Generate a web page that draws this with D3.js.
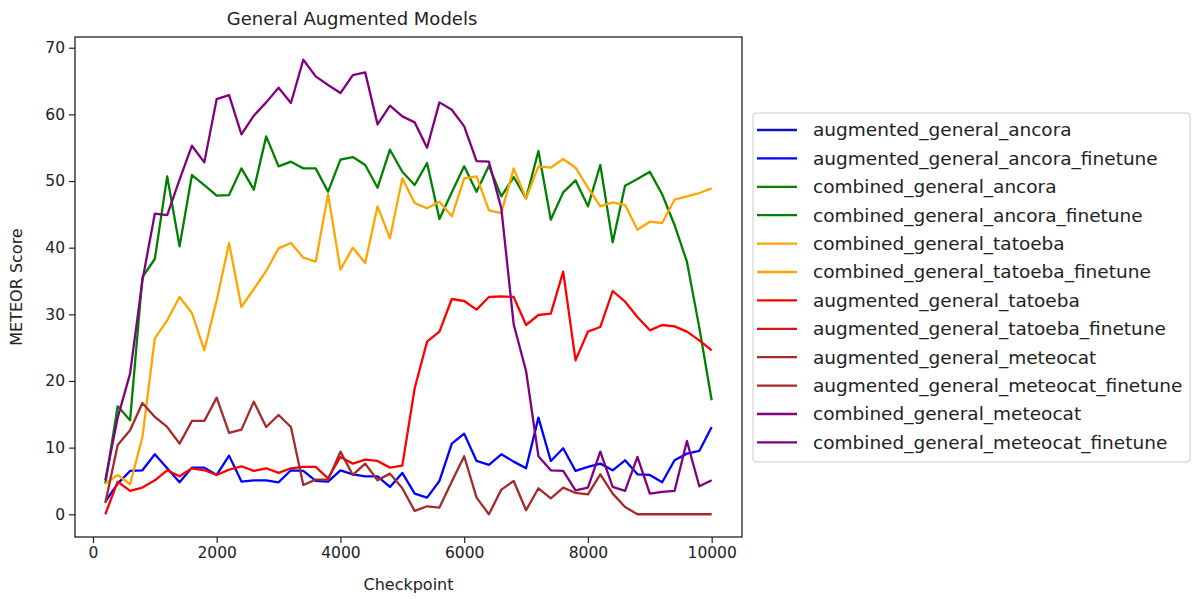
<!DOCTYPE html>
<html>
<head>
<meta charset="utf-8">
<script src="https://cdn.jsdelivr.net/npm/d3@7"></script>
<style>
  body { margin: 0; background: #fff; }
  text { font-family: "DejaVu Sans", sans-serif; fill: #222; }
</style>
</head>
<body>
<svg id="chart" width="1193" height="599"></svg>
<script>
// checkpoints 200..10000
const checkpoints = d3.range(1, 51).map(i => i * 200);

const augmentedAncora = [1.9, 4.6, 6.5, 6.6, 9.0, 6.9, 4.8, 7.0, 7.0, 5.9,
  8.8, 4.9, 5.1, 5.1, 4.8, 6.6, 6.5, 5.0, 4.9, 6.6,
  6.0, 5.7, 5.7, 4.1, 6.2, 3.1, 2.5, 5.0, 10.6, 12.1,
  8.0, 7.4, 9.0, 7.9, 6.9, 14.5, 8.0, 9.9, 6.5, 7.1,
  7.6, 6.6, 8.1, 6.0, 5.9, 4.8, 8.1, 9.1, 9.5, 13.1];

const combinedAncora = [4.6, 16.2, 14.1, 35.6, 38.3, 50.7, 40.2, 50.9, 49.4, 47.8,
  47.9, 51.9, 48.7, 56.7, 52.2, 52.9, 51.9, 51.9, 48.4, 53.2,
  53.6, 52.4, 49.0, 54.7, 51.4, 49.4, 52.7, 44.3, 48.3, 52.2,
  48.4, 52.3, 47.7, 50.6, 47.4, 54.5, 44.2, 48.3, 50.1, 46.2,
  52.4, 40.8, 49.3, 50.3, 51.4, 48.0, 43.4, 37.9, 28.0, 17.1];

const combinedTatoeba = [4.6, 5.9, 4.5, 11.6, 26.4, 29.1, 32.6, 30.2, 24.6, 32.1,
  40.7, 31.1, 33.8, 36.5, 39.9, 40.7, 38.5, 37.9, 48.0, 36.7,
  40.0, 37.7, 46.2, 41.4, 50.4, 46.7, 45.9, 46.9, 44.7, 50.4,
  50.7, 45.6, 45.2, 51.9, 47.4, 52.2, 52.0, 53.3, 52.0, 49.0,
  46.2, 46.8, 46.4, 42.7, 43.9, 43.7, 47.2, 47.7, 48.2, 48.9];

const augmentedTatoeba = [0.0, 4.9, 3.5, 4.0, 5.1, 6.6, 5.7, 6.9, 6.6, 5.9,
  6.7, 7.2, 6.5, 6.9, 6.2, 6.9, 7.1, 7.1, 5.4, 8.6,
  7.6, 8.2, 8.0, 7.0, 7.3, 18.9, 25.9, 27.4, 32.3, 32.0,
  30.7, 32.6, 32.7, 32.6, 28.4, 29.9, 30.1, 36.4, 23.1, 27.4,
  28.1, 33.5, 31.9, 29.6, 27.6, 28.4, 28.2, 27.4, 26.1, 24.6];

const augmentedMeteocat = [1.7, 10.4, 12.6, 16.7, 14.6, 13.1, 10.6, 14.0, 14.0, 17.5,
  12.2, 12.7, 16.9, 13.1, 14.9, 13.1, 4.4, 5.2, 5.2, 9.4,
  5.9, 7.6, 5.1, 6.1, 3.9, 0.5, 1.2, 1.0, 4.9, 8.7,
  2.5, 0.0, 3.7, 5.0, 0.6, 3.9, 2.4, 4.0, 3.2, 3.0,
  6.0, 3.1, 1.1, 0.0, 0.0, 0.0, 0.0, 0.0, 0.0, 0.0];

const combinedMeteocat = [5.1, 14.5, 21.1, 35.1, 45.1, 44.9, 50.2, 55.3, 52.8, 62.3,
  62.9, 57.0, 59.8, 61.8, 64.0, 61.7, 68.2, 65.7, 64.4, 63.2,
  65.9, 66.3, 58.5, 61.3, 59.7, 58.8, 55.0, 61.8, 60.7, 58.2,
  53.0, 52.9, 45.9, 28.5, 21.5, 8.7, 6.6, 6.5, 3.6, 4.0,
  9.4, 4.1, 3.5, 8.6, 3.1, 3.35, 3.5, 11.0, 4.2, 5.1];

const legendNames = [
  "augmented_general_ancora", "augmented_general_ancora_finetune",
  "combined_general_ancora", "combined_general_ancora_finetune",
  "combined_general_tatoeba", "combined_general_tatoeba_finetune",
  "augmented_general_tatoeba", "augmented_general_tatoeba_finetune",
  "augmented_general_meteocat", "augmented_general_meteocat_finetune",
  "combined_general_meteocat", "combined_general_meteocat_finetune"
];
const legendColors = [
  "#1010c0", "blue", "green", "green", "orange", "orange",
  "red", "#d01818", "brown", "brown", "purple", "purple"
];

const series = [
  { values: augmentedAncora, color: "blue" },
  { values: combinedAncora, color: "green" },
  { values: combinedTatoeba, color: "orange" },
  { values: augmentedTatoeba, color: "red" },
  { values: augmentedMeteocat, color: "brown" },
  { values: combinedMeteocat, color: "purple" }
];

const yTicks = [0, 10, 20, 30, 40, 50, 60, 70];
const xTicks = [0, 2000, 4000, 6000, 8000, 10000];

const svg = d3.select("#chart");
const margin = { top: 37, left: 75, right: 451, bottom: 62 };
const W = 1193, H = 599;

const xScale = d3.scaleLinear()
  .domain([-290, 10490])
  .range([margin.left, W - margin.right]);

const yScale = d3.scaleLinear()
  .domain([-3.41, 71.61])
  .range([H - margin.bottom, margin.top]);

// lines
const line = d3.line()
  .x((d, i) => xScale(checkpoints[i]))
  .y(d => yScale(d));

svg.append("g")
  .selectAll("path")
  .data(series)
  .enter()
  .append("path")
  .attr("d", d => line(d.values))
  .attr("fill", "none")
  .attr("stroke", d => d.color)
  .attr("stroke-width", 2.3)
  .attr("stroke-linejoin", "round");

// axes
const xAxis = svg.append("g")
  .attr("transform", `translate(0, ${H - margin.bottom})`)
  .call(d3.axisBottom(xScale).tickValues(xTicks).tickSize(6).tickPadding(4).tickFormat(d3.format("d")));

const yAxis = svg.append("g")
  .attr("transform", `translate(${margin.left}, 0)`)
  .call(d3.axisLeft(yScale).tickValues(yTicks).tickSize(6).tickPadding(4));

[xAxis, yAxis].forEach(a => {
  a.select(".domain").remove();
  a.selectAll("text").style("font-size", "15.5px").attr("fill", "#222");
  a.selectAll("line").attr("stroke", "#222").attr("stroke-width", 1.2);
});

// frame
svg.append("rect")
  .attr("x", margin.left)
  .attr("y", margin.top)
  .attr("width", W - margin.right - margin.left)
  .attr("height", H - margin.bottom - margin.top)
  .attr("fill", "none")
  .attr("stroke", "#222")
  .attr("stroke-width", 1.3);

// title & labels
svg.append("text")
  .attr("x", 352)
  .attr("y", 25)
  .attr("text-anchor", "middle")
  .style("font-size", "18px")
  .text("General Augmented Models");

svg.append("text")
  .attr("x", (margin.left + W - margin.right) / 2)
  .attr("y", 590)
  .attr("text-anchor", "middle")
  .style("font-size", "16px")
  .text("Checkpoint");

svg.append("text")
  .attr("transform", `translate(22, ${(margin.top + H - margin.bottom) / 2}) rotate(-90)`)
  .attr("text-anchor", "middle")
  .style("font-size", "16px")
  .text("METEOR Score");

// legend
const legend = svg.append("g").attr("transform", "translate(753, 113)");
legend.append("rect")
  .attr("width", 437)
  .attr("height", 349)
  .attr("rx", 3)
  .attr("fill", "#fff")
  .attr("stroke", "#ccc");

const rows = legend.selectAll(".row")
  .data(legendNames)
  .enter()
  .append("g")
  .attr("class", "row")
  .attr("transform", (d, i) => `translate(0, ${17 + i * 28.4})`);

rows.append("line")
  .attr("x1", 4).attr("x2", 44)
  .attr("stroke", (d, i) => legendColors[i])
  .attr("stroke-width", 2.3);

rows.append("text")
  .attr("x", 60)
  .attr("dy", "0.35em")
  .style("font-size", "18.5px")
  .text(d => d);
</script>
</body>
</html>
